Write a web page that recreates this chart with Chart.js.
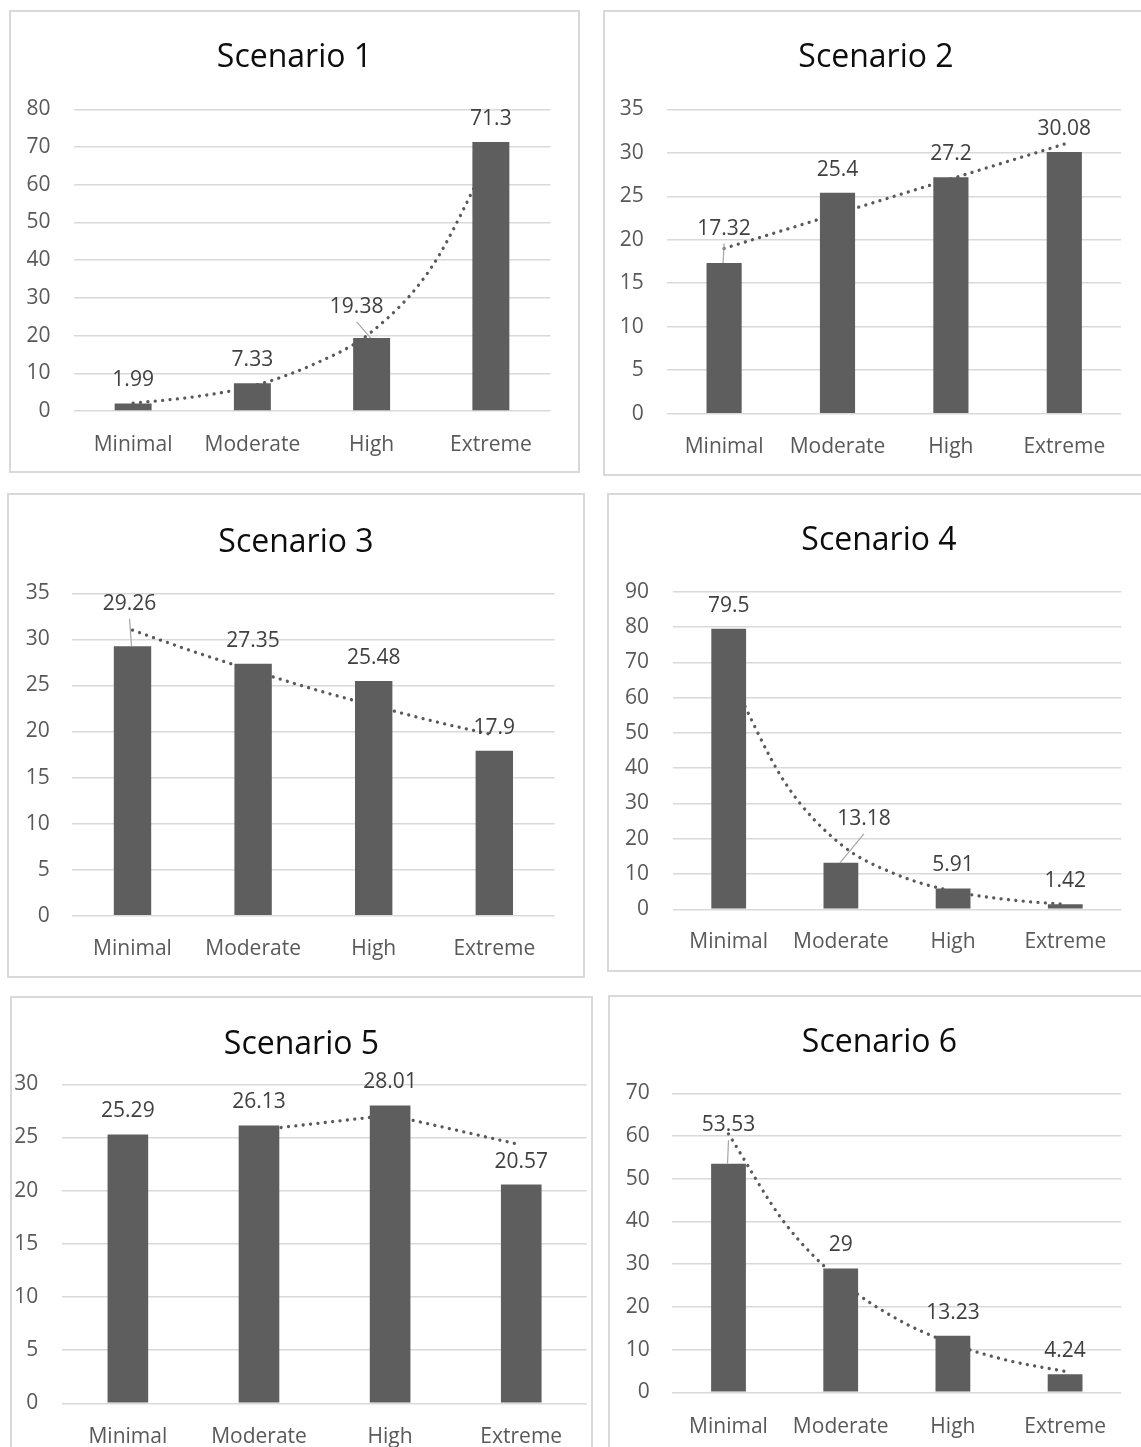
<!DOCTYPE html>
<html lang="en">
<head>
    <meta charset="UTF-8">
    <title>Scenarios</title>
    <script src="https://cdn.jsdelivr.net/npm/chart.js"></script>
    <style>
        html, body {
            margin: 0;
            padding: 0;
            background: #fff;
            overflow: hidden;
            width: 1141px;
            height: 1447px;
        }

        .panel {
            position: absolute;
            box-sizing: border-box;
            border: 2px solid #d9d9d9;
            background: #fff;
        }

        .panel canvas {
            display: block;
        }
    </style>
</head>
<body>
    <script>
        const categories = ['Minimal', 'Moderate', 'High', 'Extreme'];
        const titles = ['Scenario 1', 'Scenario 2', 'Scenario 3', 'Scenario 4', 'Scenario 5', 'Scenario 6'];

        const scenario1 = [1.99, 7.33, 19.38, 71.3];
        const scenario2 = [17.32, 25.4, 27.2, 30.08];
        const scenario3 = [29.26, 27.35, 25.48, 17.9];
        const scenario4 = [79.5, 13.18, 5.91, 1.42];
        const scenario5 = [25.29, 26.13, 28.01, 20.57];
        const scenario6 = [53.53, 29, 13.23, 4.24];

        // trendline readings, half a category apart
        const trendSteps = [0, 0.5, 1, 1.5, 2, 2.5, 3];
        const trend1 = [2.1, 3.7, 6.6, 12.2, 21.0, 38.0, 68.0];
        const trend2 = [19.0, null, 23.0, null, 27.0, null, 31.0];
        const trend3 = [31.0, 28.7, 26.6, 24.6, 22.8, 21.1, 19.6];
        const trend4 = [66.9, 36.0, 18.4, 9.8, 5.1, 2.7, 1.4];
        const trend5 = [null, null, 25.7, null, 27.1, null, 24.3];
        const trend6 = [60.5, 39.7, 26.1, 17.2, 11.3, 7.4, 4.9];

        // y axis ticks
        const yMax = [80, 35, 35, 90, 30, 70];
        const yStep = [10, 5, 5, 10, 5, 10];

        const series = [scenario1, scenario2, scenario3, scenario4, scenario5, scenario6];
        const trends = [trend1, trend2, trend3, trend4, trend5, trend6];

        // page layout: box = [x, y, w, h], plot = [left, top, right, bottom]
        const panels = [
            { box: [9, 10, 571, 463], plot: [73.5, 109.3, 550.5, 411], tickRight: 50.5, catY: 443, titleY: 55, moves: { 2: [-15, -8] }, straight: false },
            { box: [603, 10, 546, 466], plot: [667.4, 109.3, 1121, 413.7], tickRight: 643.7, catY: 445, titleY: 55, moves: { 0: [0, -11.5] }, straight: true },
            { box: [7, 493, 578, 485], plot: [72.2, 593.3, 554.6, 915.7], tickRight: 49.8, catY: 946.7, titleY: 540, moves: { 0: [-3, -19.5] }, straight: false },
            { box: [607, 493, 544, 479], plot: [672.6, 591.7, 1121.4, 909.3], tickRight: 649, catY: 940, titleY: 538.3, moves: { 1: [23, -21] }, straight: false },
            { box: [10, 996, 583, 469], plot: [62.3, 1084.3, 586.8, 1403.3], tickRight: 38.3, catY: 1435, titleY: 1041.7, moves: {}, straight: true },
            { box: [608, 995, 543, 470], plot: [672.4, 1093.3, 1121.2, 1392.3], tickRight: 649.8, catY: 1425, titleY: 1040, moves: { 0: [0, -15.4] }, straight: false }
        ];

        const BORDER = 2;
        const TITLE_SIZE = 32;
        const TEXT_SIZE = 21;
        const FONT = '"Open Sans", "Noto Sans", sans-serif';

        // value labels above the bars, with a leader line when a label was moved
        const valueLabels = {
            id: 'valueLabels',
            afterDatasetsDraw(chart, args, opts) {
                const meta = chart.getDatasetMeta(0);
                const values = chart.data.datasets[0].data;
                const moves = opts.moves || {};
                const ctx = chart.ctx;
                ctx.save();
                meta.data.forEach((bar, k) => {
                    const mv = moves[k];
                    const lx = bar.x + (mv ? mv[0] : 0);
                    const ly = bar.y - 23 + (mv ? mv[1] : 0);
                    if (mv) {
                        ctx.strokeStyle = '#a6a6a6';
                        ctx.lineWidth = 1.2;
                        ctx.beginPath();
                        ctx.moveTo(lx, ly + 15);
                        ctx.lineTo(bar.x - 1, bar.y);
                        ctx.stroke();
                    }
                    ctx.font = TEXT_SIZE + 'px ' + FONT;
                    ctx.fillStyle = '#404040';
                    ctx.textAlign = 'center';
                    ctx.textBaseline = 'middle';
                    ctx.fillText(String(values[k]), lx, ly);
                });
                ctx.restore();
            }
        };

        function buildChart(i) {
            const p = panels[i];
            const [bx, by, bw, bh] = p.box;
            const ox = bx + BORDER, oy = by + BORDER;
            const cw = bw - 2 * BORDER, ch = bh - 2 * BORDER;
            const [pl, pt, pr, pb] = p.plot;

            const titleLine = TITLE_SIZE * 1.2;
            const titlePadTop = p.titleY - oy - titleLine / 2 + 3;
            const titlePadBottom = pt - oy - titleLine - titlePadTop;
            const leftWidth = pl - ox;
            const rightWidth = ox + cw - pr;
            const bottomHeight = oy + ch - pb;

            const box = document.createElement('div');
            box.className = 'panel';
            box.style.left = bx + 'px';
            box.style.top = by + 'px';
            box.style.width = bw + 'px';
            box.style.height = bh + 'px';
            const canvas = document.createElement('canvas');
            canvas.width = cw;
            canvas.height = ch;
            box.appendChild(canvas);
            document.body.appendChild(box);

            const trendData = trendSteps.map((x, k) => ({ x: x, y: trends[i][k] }));

            return new Chart(canvas.getContext('2d'), {
                type: 'bar',
                data: {
                    labels: categories,
                    datasets: [
                        {
                            label: titles[i],
                            data: series[i],
                            backgroundColor: '#5e5e5e',
                            borderWidth: 0,
                            grouped: false,
                            categoryPercentage: 1,
                            barPercentage: 0.31,
                            order: 1
                        },
                        {
                            type: 'line',
                            label: 'Trend',
                            data: trendData,
                            xAxisID: 'xt',
                            yAxisID: 'y',
                            borderColor: '#595959',
                            borderWidth: 3.3,
                            borderDash: [0.01, 7.4],
                            borderCapStyle: 'round',
                            pointRadius: 0,
                            fill: false,
                            spanGaps: true,
                            tension: p.straight ? 0 : 0.4,
                            cubicInterpolationMode: p.straight ? 'default' : 'monotone',
                            order: 2
                        }
                    ]
                },
                options: {
                    responsive: false,
                    animation: false,
                    events: [],
                    layout: { padding: 0 },
                    plugins: {
                        legend: { display: false },
                        tooltip: { enabled: false },
                        title: {
                            display: true,
                            text: titles[i],
                            color: '#0d0d0d',
                            font: { family: FONT, size: TITLE_SIZE, weight: 'normal', lineHeight: 1.2 },
                            padding: { top: titlePadTop, bottom: titlePadBottom }
                        },
                        valueLabels: { moves: p.moves }
                    },
                    scales: {
                        x: {
                            type: 'category',
                            grid: { display: false },
                            border: { display: false },
                            ticks: {
                                color: '#595959',
                                font: { family: FONT, size: TEXT_SIZE, lineHeight: 1.2 },
                                padding: p.catY - pb - TEXT_SIZE * 0.6 - 6,
                                maxRotation: 0,
                                autoSkip: false
                            },
                            afterFit: (scale) => { scale.height = bottomHeight; }
                        },
                        // hidden axis for the trendline, lined up with the category centres
                        xt: {
                            type: 'linear',
                            display: false,
                            offset: false,
                            min: -0.5,
                            max: 3.5
                        },
                        y: {
                            position: 'left',
                            min: 0,
                            max: yMax[i],
                            grid: { color: '#d9d9d9', lineWidth: 1.5, drawTicks: false },
                            border: { display: false },
                            ticks: {
                                stepSize: yStep[i],
                                color: '#595959',
                                font: { family: FONT, size: TEXT_SIZE },
                                padding: pl - p.tickRight
                            },
                            afterFit: (scale) => { scale.width = leftWidth; }
                        },
                        yr: {
                            type: 'linear',
                            position: 'right',
                            grid: { display: false },
                            border: { display: false },
                            ticks: { display: false },
                            afterFit: (scale) => { scale.width = rightWidth; }
                        }
                    }
                },
                plugins: [valueLabels]
            });
        }

        const charts = panels.map((_, i) => buildChart(i));
    </script>
</body>
</html>
